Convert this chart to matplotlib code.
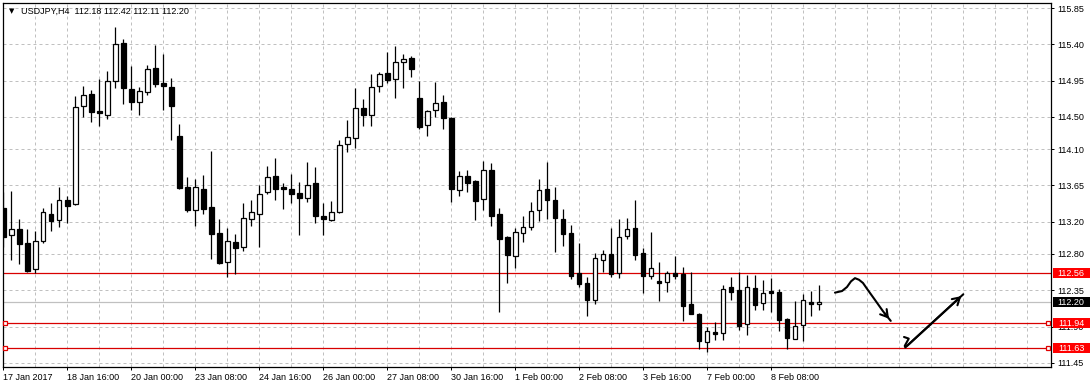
import matplotlib.pyplot as plt
import matplotlib.transforms as mtransforms
from matplotlib.patches import Rectangle
from matplotlib.ticker import FixedLocator, MultipleLocator

plt.rcParams['font.family'] = ['Liberation Sans', 'DejaVu Sans']

symbol = "USDJPY,H4"

# H4 candles (one entry per bar)
opens = [113.37, 113.03, 113.11, 112.93, 112.61, 112.96, 113.30, 113.22, 113.47, 113.42,
         114.64, 114.78, 114.57, 114.53, 114.94, 115.42, 114.85, 114.69, 114.81, 115.11,
         114.92, 114.87, 114.26, 113.63, 113.35, 113.61, 113.38, 113.06, 112.70, 112.95,
         112.89, 113.23, 113.30, 113.57, 113.77, 113.63, 113.61, 113.56, 113.50, 113.68,
         113.27, 113.22, 113.32, 114.16, 114.24, 114.61, 114.53, 114.88, 115.05, 114.97,
         115.18, 115.23, 114.73, 114.40, 114.58, 114.68, 114.49, 113.59, 113.77, 113.71,
         113.48, 113.84, 113.29, 113.01, 112.78, 113.06, 113.14, 113.34, 113.60, 113.47,
         113.23, 113.06, 112.56, 112.44, 112.23, 112.73, 112.80, 112.56, 113.02, 113.12,
         112.81, 112.53, 112.46, 112.45, 112.56, 112.55, 112.18, 112.06, 111.71, 111.83,
         111.82, 112.39, 112.35, 111.93, 112.38, 112.19, 112.34, 112.33, 111.99, 111.75,
         111.92, 112.21, 112.18]
highs = [113.57, 113.58, 113.23, 113.11, 113.09, 113.37, 113.43, 113.63, 113.52, 114.76,
         114.88, 114.83, 114.97, 115.07, 115.62, 115.47, 115.13, 114.87, 115.15, 115.39,
         115.28, 114.98, 114.41, 113.75, 113.73, 113.78, 114.08, 113.23, 113.12, 113.05,
         113.43, 113.47, 113.66, 113.89, 113.99, 113.68, 113.79, 113.69, 113.94, 113.88,
         113.43, 113.46, 114.21, 114.46, 114.86, 114.72, 115.03, 115.06, 115.31, 115.38,
         115.28, 115.26, 114.95, 114.59, 114.93, 114.77, 114.50, 113.83, 113.84, 113.72,
         113.95, 113.93, 113.37, 113.02, 113.12, 113.27, 113.45, 113.73, 113.94, 113.63,
         113.36, 113.16, 112.94, 112.52, 112.81, 112.85, 113.12, 113.23, 113.24, 113.47,
         112.87, 113.07, 112.70, 112.59, 112.77, 112.64, 112.58, 112.07, 111.89, 111.96,
         112.42, 112.51, 112.58, 112.54, 112.54, 112.48, 112.50, 112.37, 112.00, 112.22,
         112.30, 112.34, 112.42]
lows = [112.89, 112.72, 112.67, 112.58, 112.56, 112.93, 113.08, 113.14, 113.18, 113.41,
        114.50, 114.44, 114.39, 114.48, 114.86, 114.66, 114.58, 114.52, 114.77, 114.87,
        114.59, 114.21, 113.61, 113.32, 113.15, 113.30, 112.74, 112.68, 112.52, 112.55,
        112.84, 113.15, 112.89, 113.55, 113.47, 113.36, 113.43, 113.03, 113.45, 113.18,
        113.04, 113.21, 113.31, 114.07, 114.11, 114.39, 114.39, 114.81, 114.92, 114.73,
        114.86, 114.99, 114.35, 114.26, 114.50, 114.35, 113.44, 113.52, 113.57, 113.22,
        113.34, 113.15, 112.08, 112.44, 112.63, 112.95, 113.10, 113.21, 113.23, 112.83,
        112.90, 112.49, 112.39, 112.03, 112.18, 112.58, 112.52, 112.50, 112.98, 112.73,
        112.31, 112.49, 112.22, 112.33, 112.49, 111.97, 112.05, 111.62, 111.58, 111.73,
        111.73, 112.23, 111.86, 111.80, 112.10, 112.10, 112.08, 111.85, 111.62, 111.74,
        111.72, 112.03, 112.11]
closes = [113.01, 113.11, 112.92, 112.59, 112.96, 113.32, 113.21, 113.47, 113.40, 114.62,
          114.77, 114.56, 114.55, 114.95, 115.40, 114.86, 114.68, 114.82, 115.09, 114.91,
          114.88, 114.63, 113.62, 113.34, 113.63, 113.36, 113.05, 112.69, 112.96, 112.88,
          113.24, 113.32, 113.55, 113.76, 113.61, 113.60, 113.54, 113.49, 113.66, 113.27,
          113.23, 113.32, 114.15, 114.25, 114.61, 114.52, 114.87, 115.03, 114.96, 115.18,
          115.22, 115.10, 114.38, 114.57, 114.67, 114.49, 113.60, 113.77, 113.68, 113.46,
          113.84, 113.27, 112.99, 112.79, 113.07, 113.13, 113.33, 113.59, 113.47, 113.24,
          113.05, 112.53, 112.43, 112.23, 112.75, 112.80, 112.55, 113.01, 113.11, 112.79,
          112.53, 112.63, 112.44, 112.57, 112.53, 112.16, 112.06, 111.72, 111.84, 111.81,
          112.37, 112.33, 111.91, 112.39, 112.17, 112.31, 112.32, 111.98, 111.76, 111.91,
          112.23, 112.18, 112.20]

date_labels = ["17 Jan 2017", "18 Jan 16:00", "20 Jan 00:00", "23 Jan 08:00", "24 Jan 16:00",
               "26 Jan 00:00", "27 Jan 08:00", "30 Jan 16:00", "1 Feb 00:00", "2 Feb 08:00",
               "3 Feb 16:00", "7 Feb 00:00", "8 Feb 08:00"]
bars_per_label = 8

price_ticks = [115.85, 115.40, 114.95, 114.50, 114.10, 113.65, 113.20,
               112.80, 112.35, 111.90, 111.45]

resistance = 112.56
supports = [111.94, 111.63]

# hand-drawn arrows (bar index, price)
arrow1_x = [103.96, 104.84, 105.46, 105.96, 106.46, 106.96, 107.46, 108.09, 108.96, 109.96, 110.93]
arrow1_y = [112.32, 112.34, 112.39, 112.46, 112.50, 112.48, 112.44, 112.35, 112.23, 112.09, 111.97]
arrow2_x = [112.59, 113.18, 112.96, 112.68, 112.75, 120.0]
arrow2_y = [111.77, 111.75, 111.71, 111.66, 111.64, 112.30]

W, H = 1091, 388
fig = plt.figure(figsize=(W / 100, H / 100), dpi=100)
ax = fig.add_axes([2.7 / W, (H - 367.3) / H, 1048 / W, 364.6 / H])

n = len(opens)
idx = list(range(n))
bull = [c > o for o, c in zip(opens, closes)]

# wicks then bodies
ax.vlines(idx, lows, highs, color='black', lw=0.9, zorder=3)
bottoms = [min(o, c) for o, c in zip(opens, closes)]
heights = [max(abs(c - o), 0.004) for o, c in zip(opens, closes)]
ax.bar(idx, heights, bottom=bottoms, width=0.55,
       color=['white' if b else 'black' for b in bull],
       edgecolor='black', linewidth=0.9, zorder=4)

ax.set_xlim(-0.075, 130.925)
ax.set_ylim(111.394, 115.917)

# horizontal levels
blend = mtransforms.blended_transform_factory(ax.transAxes, ax.transData)
ax.axhline(resistance, color='#d80000', lw=0.9, zorder=2)
for lvl in supports:
    ax.axhline(lvl, color='#d80000', lw=0.9, zorder=2)
    ax.plot([0.002, 0.9975], [lvl, lvl], ls='none', marker='s', ms=3.2,
            mfc='white', mec='#e00000', mew=0.9, transform=blend,
            clip_on=False, zorder=5)
ax.axhline(closes[-1], color='#c0c0c0', lw=0.9, zorder=1)

# arrows
for xs, ys in [(arrow1_x, arrow1_y), (arrow2_x, arrow2_y)]:
    ax.plot(xs, ys, color='black', lw=1.5, solid_capstyle='round',
            solid_joinstyle='round', zorder=6)
    ax.annotate('', xy=(xs[-1], ys[-1]), xytext=(xs[-2], ys[-2]),
                arrowprops=dict(arrowstyle='->,head_length=0.5,head_width=0.3', lw=1.5,
                                color='black'), zorder=6)

# grid
grid_kw = dict(color='#c0c0c0', lw=0.72, linestyle=(0, (3, 3)))
ax.xaxis.set_major_locator(FixedLocator(range(0, bars_per_label * len(date_labels), bars_per_label)))
ax.set_xticklabels(date_labels, ha='left', fontsize=6.5)
ax.xaxis.set_minor_locator(MultipleLocator(4))
ax.grid(which='both', axis='x', **grid_kw)
ax.grid(which='major', axis='y', **grid_kw)
ax.set_axisbelow(True)

ax.yaxis.tick_right()
ax.set_yticks(price_ticks)
ax.set_yticklabels(['%.2f' % p for p in price_ticks], fontsize=6.5)
ax.tick_params(axis='both', which='major', length=2.5, width=0.72, color='black', pad=2.5)
ax.tick_params(axis='x', which='minor', length=0)
ax.tick_params(axis='x', pad=1.5)

for s in ax.spines.values():
    s.set_linewidth(0.9)

# price boxes on the right scale
box_h = 10 / 80.6
for val, col in [(resistance, '#ff0000'), (closes[-1], 'black'),
                 (supports[0], '#ff0000'), (supports[1], '#ff0000')]:
    ax.add_patch(Rectangle((1.0025, val - box_h / 2), 0.035, box_h, transform=blend,
                           facecolor=col, edgecolor='none', clip_on=False, zorder=7))
    ax.text(1.0195, val, '%.2f' % val, transform=blend, ha='center', va='center',
            color='white', fontsize=6.5, zorder=8, clip_on=False)

# title
ax.text(6 / 1048, 1 - 8.3 / 364.6, '\u25bc', transform=ax.transAxes, fontsize=5,
        ha='left', va='center', family='DejaVu Sans')
ax.text(18 / 1048, 1 - 8.3 / 364.6,
        '%s  %.2f %.2f %.2f %.2f' % (symbol, opens[-1], highs[-1], lows[-1], closes[-1]),
        transform=ax.transAxes, fontsize=6.5, ha='left', va='center')

fig.savefig('out.png', dpi=100, facecolor='white')
